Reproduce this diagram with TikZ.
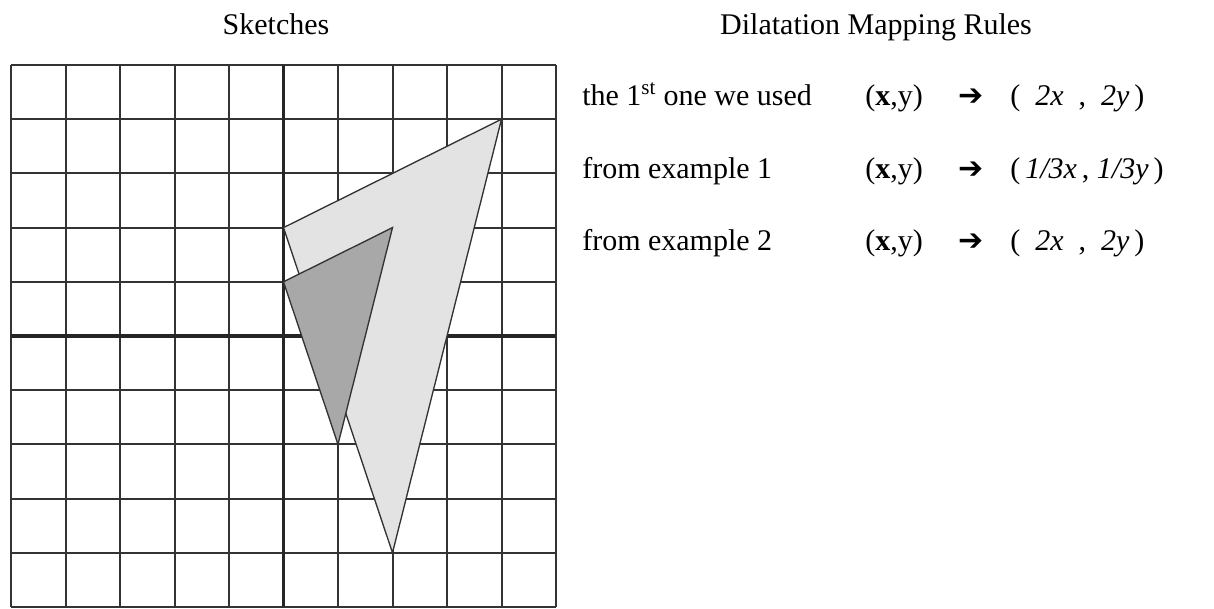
\documentclass[tikz,border=0pt]{standalone}
\usepackage{fontspec}
\setmainfont{Liberation Serif}
\newfontfamily\symfont{DejaVu Sans}
\begin{document}
\begin{tikzpicture}[x=0.75pt,y=-0.75pt,
  gridline/.style={line width=1.5pt,draw=black!80},
  axisline/.style={line width=2.8pt,draw=black!85},
  bigtri/.style={fill=black!11,draw=black!80,line width=1pt,line join=miter},
  smalltri/.style={fill=black!34,draw=black!80,line width=1pt,line join=miter},
  title/.style={font=\fontsize{22.5}{26}\selectfont,anchor=base,inner sep=0pt},
  rule/.style={font=\fontsize{22.5}{26}\selectfont,anchor=base west,inner sep=0pt}]
\useasboundingbox (0,0) rectangle (1214,608);
% grid
\foreach \i in {0,...,10} {
  \draw[gridline] ({11+54.5*\i},65) -- ({11+54.5*\i},607);
  \draw[gridline] (11,{65+54.2*\i}) -- (556,{65+54.2*\i});
}
\draw[axisline] (283.5,65) -- (283.5,607);
\draw[axisline] (11,336) -- (556,336);
% triangles
\coordinate (A) at (283.5,227.6);
\coordinate (B) at (501.5,119.2);
\coordinate (C) at (392.5,552.8);
\coordinate (a) at (283.5,281.8);
\coordinate (b) at (392.5,227.6);
\coordinate (c) at (338,444.4);
\draw[bigtri] (A) -- (B) -- (C) -- cycle;
\draw[smalltri] (a) -- (b) -- (c) -- cycle;
% titles
\node[title] (t1) at (276,34) {Sketches};
\node[title] (t2) at (876,34) {Dilatation Mapping Rules};
% rules
\node[rule] (r1) at (582,105) {the 1\textsuperscript{st} one we used};
\node[rule] (r2) at (582,178) {from example 1};
\node[rule] (r3) at (582,250) {from example 2};
\node[rule] (m1) at (865,105) {(\textbf{x},y)};
\node[rule] (m2) at (865,178) {(\textbf{x},y)};
\node[rule] (m3) at (865,250) {(\textbf{x},y)};
\node[rule] (p1) at (958,105) {\symfont ➔};
\node[rule] (p2) at (958,178) {\symfont ➔};
\node[rule] (p3) at (958,250) {\symfont ➔};
\node[rule] (q1) at (1010,105) {(\ \ \textit{2x}\ \ ,\ \ \textit{2y}\,)};
\node[rule] (q2) at (1010,178) {(\,\textit{1/3x}\,,\ \textit{1/3y}\,)};
\node[rule] (q3) at (1010,250) {(\ \ \textit{2x}\ \ ,\ \ \textit{2y}\,)};
\end{tikzpicture}
\end{document}
